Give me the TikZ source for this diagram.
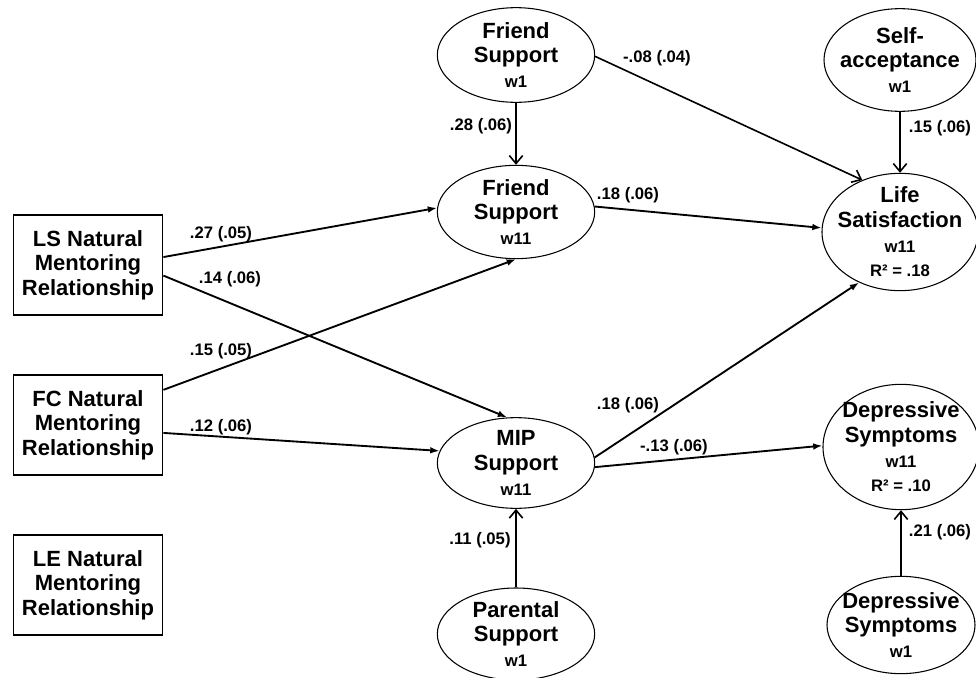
\documentclass[tikz,border=0pt]{standalone}
\usepackage{fontspec}
\setmainfont{Liberation Sans}
\usetikzlibrary{shapes,arrows.meta,calc}

\newcommand{\bigtxt}{\fontsize{16.5}{18.5}\selectfont\bfseries}
\newcommand{\wtxt}{\fontsize{12.5}{14}\selectfont\bfseries}
\newcommand{\coeftxt}{\fontsize{12.5}{14}\selectfont\bfseries}

\tikzset{
  latent/.style={ellipse,draw,line width=0.8pt,inner xsep=-10pt,inner ysep=-4pt,align=center,font=\bigtxt},
  observed/.style={rectangle,draw,line width=1.1pt,align=center,minimum width=112pt,minimum height=75pt,inner sep=0pt,font=\bigtxt},
  coef/.style={font=\coeftxt,inner sep=0pt},
  effect/.style={line width=1.4pt,-{Latex[length=7pt,width=5pt]}},
  stable/.style={line width=1.2pt,-{Straight Barb[length=6pt,width=10pt]}}
}

\begin{document}
\begin{tikzpicture}[x=0.75pt,y=-0.75pt]
  \path[use as bounding box] (0,0) rectangle (976,678);

  % mentoring relationships
  \node[observed] (ls) at (88,265) {LS Natural\\Mentoring\\Relationship};
  \node[observed] (fc) at (88,425) {FC Natural\\Mentoring\\Relationship};
  \node[observed] (le) at (88,585) {LE Natural\\Mentoring\\Relationship};

  % support
  \node[latent,minimum width=118pt,minimum height=71pt] (fs1) at (516,55) {Friend\\Support\\{\wtxt w1}};
  \node[latent,minimum width=118pt,minimum height=70pt] (fs11) at (516,212) {Friend\\Support\\{\wtxt w11}};
  \node[latent,minimum width=118pt,minimum height=68pt] (mip) at (516,463) {MIP\\Support\\{\wtxt w11}};
  \node[latent,minimum width=118pt,minimum height=69pt] (par) at (516,634) {Parental\\Support\\{\wtxt w1}};

  % outcomes
  \node[latent,minimum width=114pt,minimum height=77pt] (self) at (900,60) {Self-\\acceptance\\{\wtxt w1}};
  \node[latent,minimum width=117pt,minimum height=88pt] (life) at (900,232) {Life\\Satisfaction\\{\wtxt w11}\\{\wtxt R² = .18}};
  \node[latent,minimum width=117pt,minimum height=94pt] (dep11) at (901,447) {Depressive\\Symptoms\\{\wtxt w11}\\{\wtxt R² = .10}};
  \node[latent,minimum width=111pt,minimum height=73pt] (dep1) at (901,625) {Depressive\\Symptoms\\{\wtxt w1}};

  % paths
  \draw[effect] (ls.6) -- (fs11.177);
  \draw[effect] (ls.-8) -- (mip.101);
  \draw[effect] (fc.25) -- (fs11.south);
  \draw[effect] (fc.-6) -- (mip.171);
  \draw[effect] (fs11.4) -- (life.177);
  \draw[effect] (mip.4) -- (life.231);
  \draw[effect] (mip.-3) -- (dep11.179);
  \draw[stable] (fs1.-1) -- (life.126);
  \draw[stable] (fs1.south) -- (fs11.north);
  \draw[stable] (self.south) -- (life.north);
  \draw[stable] (par.north) -- (mip.south);
  \draw[stable] (dep1.north) -- (dep11.south);

  % coefficients
  \foreach \nm/\x/\y/\txt in {fsfs/481/126/.28 (.06), fslife/657/58/-.08 (.04),
      fslife11/628/195/.18 (.06), selflife/940/128/.15 (.06),
      lsfs/221/234/.27 (.05), lsmip/230/279/.14 (.06),
      fcfs/221/351/.15 (.05), fcmip/221/427/.12 (.06),
      miplife/628/405/.18 (.06), mipdep/674/447/-.13 (.06),
      parmip/480/540/.11 (.05), depdep/940/532/.21 (.06)}
    {\node[coef] (\nm) at (\x,\y) {\txt};}
\end{tikzpicture}
\end{document}
